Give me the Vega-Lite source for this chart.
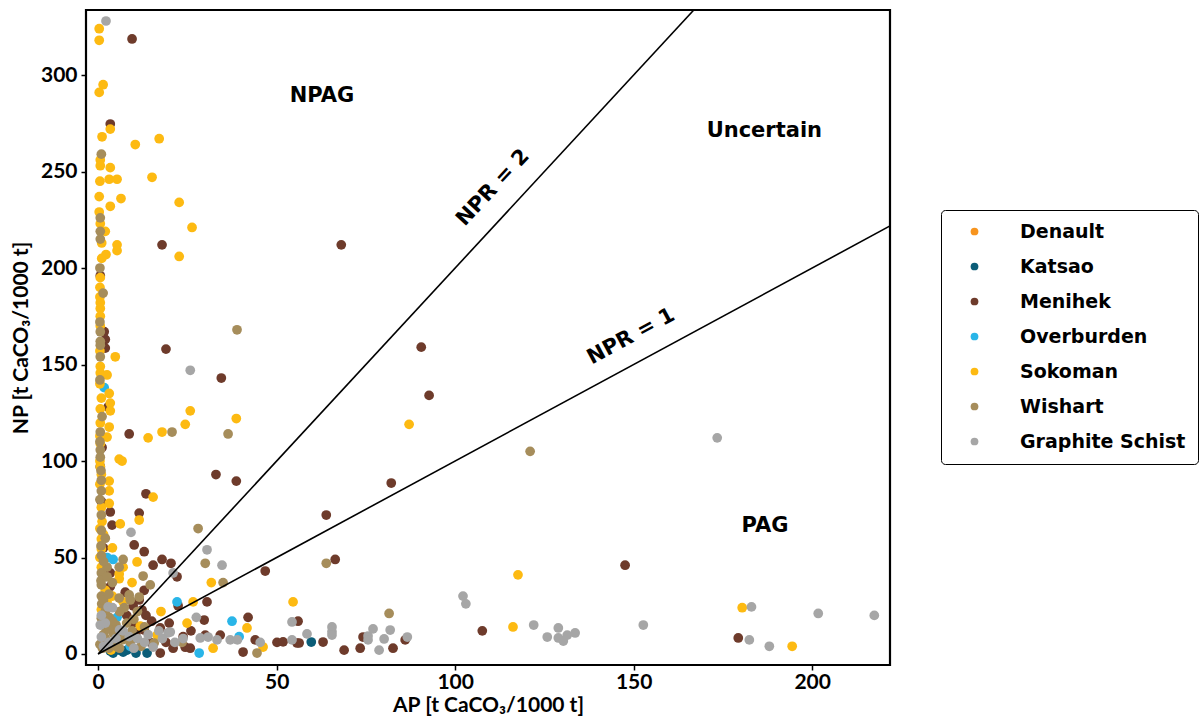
{
  "$schema": "https://vega.github.io/schema/vega-lite/v6.json",
  "width": 804,
  "height": 655,
  "autosize": {"type": "none"},
  "padding": {"left": 86, "top": 10, "right": 313, "bottom": 58},
  "background": "white",
  "config": {
    "view": {"stroke": "black", "strokeWidth": 2.2},
    "font": "Lato",
    "axis": {
      "domain": false, "grid": false, "ticks": true, "tickColor": "black", "tickSize": 5, "tickWidth": 1.5,
      "labelFont": "Lato", "labelFontWeight": "bold", "labelFontSize": 21, "labelColor": "black",
      "titleFont": "Lato", "titleFontWeight": "bold", "titleFontSize": 21, "titleColor": "black"
    },
    "legend": {
      "orient": "none", "legendX": 855, "legendY": 200, "strokeColor": "black", "cornerRadius": 4,
      "padding": 12, "symbolOffset": 12, "labelFont": "DejaVu Sans", "labelFontWeight": "bold", "labelFontSize": 19,
      "labelColor": "black", "symbolSize": 60, "symbolType": "circle", "rowPadding": 15, "labelOffset": 36,
      "labelLimit": 300, "fillColor": "white"
    }
  },
  "datasets": {
    "pts": [
      {"Rock":"Katsao","AP":5.9,"NP":2},{"Rock":"Katsao","AP":8.1,"NP":2},{"Rock":"Katsao","AP":10.6,"NP":0.5},{"Rock":"Katsao","AP":4.2,"NP":0.5},{"Rock":"Katsao","AP":3.4,"NP":1.5},{"Rock":"Katsao","AP":13.7,"NP":0.5},{"Rock":"Katsao","AP":59.7,"NP":6.2},{"Rock":"Katsao","AP":7,"NP":1},
      {"Rock":"Menihek","AP":9.5,"NP":318.7},{"Rock":"Menihek","AP":3.4,"NP":274.6},{"Rock":"Menihek","AP":17.9,"NP":212},{"Rock":"Menihek","AP":68.1,"NP":212},{"Rock":"Menihek","AP":0.6,"NP":196},{"Rock":"Menihek","AP":1.7,"NP":167},{"Rock":"Menihek","AP":2,"NP":163},{"Rock":"Menihek","AP":2,"NP":158.5},{"Rock":"Menihek","AP":19,"NP":158},{"Rock":"Menihek","AP":90.5,"NP":159},{"Rock":"Menihek","AP":34.5,"NP":143},{"Rock":"Menihek","AP":92.7,"NP":134},{"Rock":"Menihek","AP":2.8,"NP":128},{"Rock":"Menihek","AP":8.7,"NP":114},{"Rock":"Menihek","AP":1.1,"NP":107},{"Rock":"Menihek","AP":33,"NP":93},{"Rock":"Menihek","AP":38.7,"NP":89.6},{"Rock":"Menihek","AP":82.1,"NP":88.6},{"Rock":"Menihek","AP":0.6,"NP":97},{"Rock":"Menihek","AP":0.9,"NP":79},{"Rock":"Menihek","AP":13.4,"NP":83},{"Rock":"Menihek","AP":3.4,"NP":73.6},{"Rock":"Menihek","AP":11.5,"NP":73},{"Rock":"Menihek","AP":63.9,"NP":72},{"Rock":"Menihek","AP":3.9,"NP":66.8},{"Rock":"Menihek","AP":10.1,"NP":56.5},{"Rock":"Menihek","AP":12.9,"NP":53},{"Rock":"Menihek","AP":15.4,"NP":46},{"Rock":"Menihek","AP":17.9,"NP":49},{"Rock":"Menihek","AP":20.4,"NP":47},{"Rock":"Menihek","AP":66.4,"NP":49},{"Rock":"Menihek","AP":46.8,"NP":43},{"Rock":"Menihek","AP":147.6,"NP":46},{"Rock":"Menihek","AP":3.4,"NP":42},{"Rock":"Menihek","AP":22.1,"NP":40},{"Rock":"Menihek","AP":3.4,"NP":35},{"Rock":"Menihek","AP":7.6,"NP":32},{"Rock":"Menihek","AP":12.9,"NP":33},{"Rock":"Menihek","AP":9.8,"NP":25},{"Rock":"Menihek","AP":12.3,"NP":22.8},{"Rock":"Menihek","AP":30.5,"NP":27},{"Rock":"Menihek","AP":22.4,"NP":25},{"Rock":"Menihek","AP":13.4,"NP":20},{"Rock":"Menihek","AP":9.8,"NP":16},{"Rock":"Menihek","AP":42,"NP":19},{"Rock":"Menihek","AP":29.7,"NP":17.6},{"Rock":"Menihek","AP":19.9,"NP":16},{"Rock":"Menihek","AP":56,"NP":17},{"Rock":"Menihek","AP":10.6,"NP":11},{"Rock":"Menihek","AP":12.9,"NP":12.4},{"Rock":"Menihek","AP":17.4,"NP":13.5},{"Rock":"Menihek","AP":23.8,"NP":9},{"Rock":"Menihek","AP":19,"NP":6},{"Rock":"Menihek","AP":24.4,"NP":3.5},{"Rock":"Menihek","AP":30,"NP":9.8},{"Rock":"Menihek","AP":34.2,"NP":9.8},{"Rock":"Menihek","AP":25.8,"NP":3},{"Rock":"Menihek","AP":40.6,"NP":1},{"Rock":"Menihek","AP":44,"NP":7.3},{"Rock":"Menihek","AP":50.1,"NP":6},{"Rock":"Menihek","AP":51.8,"NP":6.3},{"Rock":"Menihek","AP":55.7,"NP":5.7},{"Rock":"Menihek","AP":56.3,"NP":5.7},{"Rock":"Menihek","AP":17.4,"NP":0.5},{"Rock":"Menihek","AP":14.6,"NP":6},{"Rock":"Menihek","AP":63,"NP":6.2},{"Rock":"Menihek","AP":68.9,"NP":2},{"Rock":"Menihek","AP":73.4,"NP":3},{"Rock":"Menihek","AP":74.2,"NP":8.8},{"Rock":"Menihek","AP":82.6,"NP":3},{"Rock":"Menihek","AP":86,"NP":7.3},{"Rock":"Menihek","AP":107.6,"NP":12},{"Rock":"Menihek","AP":179.3,"NP":8.3},{"Rock":"Menihek","AP":11.5,"NP":28},{"Rock":"Menihek","AP":1.5,"NP":55},{"Rock":"Menihek","AP":5,"NP":12},{"Rock":"Menihek","AP":8,"NP":20},{"Rock":"Menihek","AP":15,"NP":17},{"Rock":"Menihek","AP":21,"NP":3},{"Rock":"Menihek","AP":26,"NP":12},
      {"Rock":"Overburden","AP":1.7,"NP":138},{"Rock":"Overburden","AP":2.5,"NP":50},{"Rock":"Overburden","AP":4.2,"NP":49},{"Rock":"Overburden","AP":5.3,"NP":19},{"Rock":"Overburden","AP":22.1,"NP":27},{"Rock":"Overburden","AP":37.5,"NP":17},{"Rock":"Overburden","AP":28.3,"NP":0.5},{"Rock":"Overburden","AP":39.5,"NP":9},{"Rock":"Overburden","AP":9,"NP":4},
      {"Rock":"Sokoman","AP":0.3,"NP":324},{"Rock":"Sokoman","AP":0.3,"NP":318},{"Rock":"Sokoman","AP":1.4,"NP":295},{"Rock":"Sokoman","AP":0.3,"NP":291},{"Rock":"Sokoman","AP":3.4,"NP":272},{"Rock":"Sokoman","AP":1.1,"NP":268},{"Rock":"Sokoman","AP":10.4,"NP":264},{"Rock":"Sokoman","AP":17.1,"NP":267},{"Rock":"Sokoman","AP":0.6,"NP":256},{"Rock":"Sokoman","AP":0.6,"NP":253},{"Rock":"Sokoman","AP":3.4,"NP":252},{"Rock":"Sokoman","AP":3.1,"NP":246},{"Rock":"Sokoman","AP":5.3,"NP":246},{"Rock":"Sokoman","AP":15.1,"NP":247},{"Rock":"Sokoman","AP":0.3,"NP":237},{"Rock":"Sokoman","AP":6.4,"NP":236},{"Rock":"Sokoman","AP":22.7,"NP":234},{"Rock":"Sokoman","AP":3.4,"NP":232},{"Rock":"Sokoman","AP":0.3,"NP":229},{"Rock":"Sokoman","AP":0.6,"NP":223},{"Rock":"Sokoman","AP":2,"NP":219},{"Rock":"Sokoman","AP":26.3,"NP":221},{"Rock":"Sokoman","AP":5.3,"NP":212},{"Rock":"Sokoman","AP":5.3,"NP":209},{"Rock":"Sokoman","AP":2.2,"NP":207},{"Rock":"Sokoman","AP":22.7,"NP":206},{"Rock":"Sokoman","AP":0.6,"NP":195},{"Rock":"Sokoman","AP":0.6,"NP":182},{"Rock":"Sokoman","AP":0.6,"NP":179},{"Rock":"Sokoman","AP":0.6,"NP":175},{"Rock":"Sokoman","AP":0.6,"NP":170},{"Rock":"Sokoman","AP":4.8,"NP":154},{"Rock":"Sokoman","AP":0.6,"NP":149},{"Rock":"Sokoman","AP":0.6,"NP":145.6},{"Rock":"Sokoman","AP":2.5,"NP":144.6},{"Rock":"Sokoman","AP":3.1,"NP":135},{"Rock":"Sokoman","AP":0.9,"NP":132.6},{"Rock":"Sokoman","AP":3.4,"NP":130},{"Rock":"Sokoman","AP":3.4,"NP":126},{"Rock":"Sokoman","AP":0.6,"NP":127},{"Rock":"Sokoman","AP":25.8,"NP":126},{"Rock":"Sokoman","AP":24.4,"NP":119},{"Rock":"Sokoman","AP":38.7,"NP":122},{"Rock":"Sokoman","AP":0.6,"NP":119.7},{"Rock":"Sokoman","AP":3.1,"NP":117.6},{"Rock":"Sokoman","AP":2.5,"NP":112.4},{"Rock":"Sokoman","AP":14,"NP":112},{"Rock":"Sokoman","AP":17.9,"NP":115},{"Rock":"Sokoman","AP":0.6,"NP":109},{"Rock":"Sokoman","AP":5.9,"NP":101},{"Rock":"Sokoman","AP":6.7,"NP":100},{"Rock":"Sokoman","AP":0.6,"NP":97},{"Rock":"Sokoman","AP":0.9,"NP":93},{"Rock":"Sokoman","AP":3.1,"NP":89.6},{"Rock":"Sokoman","AP":3.1,"NP":84.5},{"Rock":"Sokoman","AP":0.9,"NP":76},{"Rock":"Sokoman","AP":3.1,"NP":78},{"Rock":"Sokoman","AP":1.1,"NP":68.6},{"Rock":"Sokoman","AP":6.2,"NP":67.4},{"Rock":"Sokoman","AP":11.5,"NP":69.4},{"Rock":"Sokoman","AP":15.4,"NP":81.3},{"Rock":"Sokoman","AP":0.9,"NP":59.6},{"Rock":"Sokoman","AP":0.9,"NP":54.4},{"Rock":"Sokoman","AP":0.9,"NP":45},{"Rock":"Sokoman","AP":5.9,"NP":41.5},{"Rock":"Sokoman","AP":5.9,"NP":39},{"Rock":"Sokoman","AP":9.5,"NP":37},{"Rock":"Sokoman","AP":10.9,"NP":47.7},{"Rock":"Sokoman","AP":31.7,"NP":37},{"Rock":"Sokoman","AP":26.6,"NP":27},{"Rock":"Sokoman","AP":54.6,"NP":27},{"Rock":"Sokoman","AP":17.6,"NP":22},{"Rock":"Sokoman","AP":0.9,"NP":23},{"Rock":"Sokoman","AP":11.8,"NP":14.5},{"Rock":"Sokoman","AP":16.5,"NP":9.8},{"Rock":"Sokoman","AP":24.9,"NP":16},{"Rock":"Sokoman","AP":41.7,"NP":13.5},{"Rock":"Sokoman","AP":32.2,"NP":3},{"Rock":"Sokoman","AP":46.2,"NP":3.6},{"Rock":"Sokoman","AP":3.6,"NP":2},{"Rock":"Sokoman","AP":87.1,"NP":119},{"Rock":"Sokoman","AP":117.6,"NP":41},{"Rock":"Sokoman","AP":116.2,"NP":14},{"Rock":"Sokoman","AP":180.4,"NP":24},{"Rock":"Sokoman","AP":194.4,"NP":4},{"Rock":"Sokoman","AP":7,"NP":45},{"Rock":"Sokoman","AP":4,"NP":55},{"Rock":"Sokoman","AP":1.5,"NP":62},{"Rock":"Sokoman","AP":2,"NP":33},
      {"Rock":"Sokoman","AP":0.5,"NP":100},{"Rock":"Sokoman","AP":0.5,"NP":113},{"Rock":"Sokoman","AP":0.5,"NP":88},{"Rock":"Sokoman","AP":0.5,"NP":65},{"Rock":"Sokoman","AP":0.5,"NP":50},{"Rock":"Sokoman","AP":1.5,"NP":40},{"Rock":"Sokoman","AP":2.5,"NP":27},{"Rock":"Sokoman","AP":0.5,"NP":185},{"Rock":"Sokoman","AP":0.5,"NP":190},{"Rock":"Sokoman","AP":0.5,"NP":140},{"Rock":"Sokoman","AP":0.5,"NP":157},{"Rock":"Sokoman","AP":1,"NP":205},{"Rock":"Sokoman","AP":1,"NP":213},{"Rock":"Sokoman","AP":0.5,"NP":245},{"Rock":"Sokoman","AP":7,"NP":27},{"Rock":"Sokoman","AP":4,"NP":30},
      {"Rock":"Wishart","AP":0.9,"NP":259},{"Rock":"Wishart","AP":0.6,"NP":226},{"Rock":"Wishart","AP":0.6,"NP":219},{"Rock":"Wishart","AP":0.6,"NP":215},{"Rock":"Wishart","AP":1.4,"NP":187},{"Rock":"Wishart","AP":0.6,"NP":167},{"Rock":"Wishart","AP":0.6,"NP":162},{"Rock":"Wishart","AP":0.6,"NP":160},{"Rock":"Wishart","AP":0.6,"NP":154},{"Rock":"Wishart","AP":1.1,"NP":123},{"Rock":"Wishart","AP":38.9,"NP":168},{"Rock":"Wishart","AP":0.6,"NP":115},{"Rock":"Wishart","AP":20.7,"NP":115},{"Rock":"Wishart","AP":36.4,"NP":114},{"Rock":"Wishart","AP":0.6,"NP":105.7},{"Rock":"Wishart","AP":0.6,"NP":102},{"Rock":"Wishart","AP":0.9,"NP":90},{"Rock":"Wishart","AP":0.9,"NP":84.5},{"Rock":"Wishart","AP":0.9,"NP":72},{"Rock":"Wishart","AP":0.9,"NP":64},{"Rock":"Wishart","AP":0.9,"NP":51},{"Rock":"Wishart","AP":7,"NP":49},{"Rock":"Wishart","AP":5.9,"NP":45},{"Rock":"Wishart","AP":0.9,"NP":42},{"Rock":"Wishart","AP":0.9,"NP":35.8},{"Rock":"Wishart","AP":12.6,"NP":40.4},{"Rock":"Wishart","AP":14.6,"NP":35.8},{"Rock":"Wishart","AP":28,"NP":65},{"Rock":"Wishart","AP":30,"NP":47},{"Rock":"Wishart","AP":35,"NP":37},{"Rock":"Wishart","AP":63.9,"NP":47},{"Rock":"Wishart","AP":0.9,"NP":30},{"Rock":"Wishart","AP":5.9,"NP":29},{"Rock":"Wishart","AP":8.7,"NP":30.6},{"Rock":"Wishart","AP":9,"NP":28},{"Rock":"Wishart","AP":11.5,"NP":29.5},{"Rock":"Wishart","AP":7.3,"NP":24},{"Rock":"Wishart","AP":0.9,"NP":18.5},{"Rock":"Wishart","AP":3.1,"NP":19},{"Rock":"Wishart","AP":2.2,"NP":13.5},{"Rock":"Wishart","AP":4.2,"NP":10.9},{"Rock":"Wishart","AP":2.2,"NP":5.7},{"Rock":"Wishart","AP":7,"NP":7.5},{"Rock":"Wishart","AP":15.7,"NP":5.7},{"Rock":"Wishart","AP":23.5,"NP":6},{"Rock":"Wishart","AP":44.5,"NP":0.5},{"Rock":"Wishart","AP":81.5,"NP":21},{"Rock":"Wishart","AP":121,"NP":105},{"Rock":"Wishart","AP":1.5,"NP":10},{"Rock":"Wishart","AP":3,"NP":3},{"Rock":"Wishart","AP":5,"NP":15},{"Rock":"Wishart","AP":1,"NP":26},{"Rock":"Wishart","AP":9.5,"NP":12},{"Rock":"Wishart","AP":12,"NP":4},{"Rock":"Wishart","AP":4,"NP":37},{"Rock":"Wishart","AP":2.5,"NP":45},{"Rock":"Wishart","AP":6,"NP":22},{"Rock":"Wishart","AP":10,"NP":18},{"Rock":"Wishart","AP":1.2,"NP":3},
      {"Rock":"Wishart","AP":0.5,"NP":5},{"Rock":"Wishart","AP":2,"NP":8},{"Rock":"Wishart","AP":3.5,"NP":6},{"Rock":"Wishart","AP":5,"NP":4},{"Rock":"Wishart","AP":6,"NP":10},{"Rock":"Wishart","AP":4,"NP":17},{"Rock":"Wishart","AP":2,"NP":22},{"Rock":"Wishart","AP":1.5,"NP":28},{"Rock":"Wishart","AP":3,"NP":31},{"Rock":"Wishart","AP":0.8,"NP":38},{"Rock":"Wishart","AP":2.5,"NP":40},{"Rock":"Wishart","AP":1.5,"NP":48},{"Rock":"Wishart","AP":0.8,"NP":56},{"Rock":"Wishart","AP":2,"NP":60},{"Rock":"Wishart","AP":0.5,"NP":80},{"Rock":"Wishart","AP":0.8,"NP":95},{"Rock":"Wishart","AP":0.5,"NP":110},{"Rock":"Wishart","AP":0.5,"NP":142},{"Rock":"Wishart","AP":0.5,"NP":172},{"Rock":"Wishart","AP":0.5,"NP":200},{"Rock":"Wishart","AP":8,"NP":16},{"Rock":"Wishart","AP":11,"NP":22},{"Rock":"Wishart","AP":13,"NP":14},{"Rock":"Wishart","AP":3,"NP":13},{"Rock":"Wishart","AP":6,"NP":3},{"Rock":"Wishart","AP":9,"NP":6},
      {"Rock":"Graphite Schist","AP":2.2,"NP":328},{"Rock":"Graphite Schist","AP":25.8,"NP":147},{"Rock":"Graphite Schist","AP":9.2,"NP":63},{"Rock":"Graphite Schist","AP":30.5,"NP":54},{"Rock":"Graphite Schist","AP":34.7,"NP":46},{"Rock":"Graphite Schist","AP":21,"NP":42},{"Rock":"Graphite Schist","AP":2.8,"NP":24.4},{"Rock":"Graphite Schist","AP":0.6,"NP":15},{"Rock":"Graphite Schist","AP":0.9,"NP":20},{"Rock":"Graphite Schist","AP":0.9,"NP":8.8},{"Rock":"Graphite Schist","AP":1.5,"NP":4},{"Rock":"Graphite Schist","AP":8.7,"NP":9},{"Rock":"Graphite Schist","AP":11,"NP":8},{"Rock":"Graphite Schist","AP":15.4,"NP":3.6},{"Rock":"Graphite Schist","AP":19.6,"NP":11},{"Rock":"Graphite Schist","AP":20.2,"NP":11.4},{"Rock":"Graphite Schist","AP":21.5,"NP":6},{"Rock":"Graphite Schist","AP":23.8,"NP":8},{"Rock":"Graphite Schist","AP":13,"NP":6},{"Rock":"Graphite Schist","AP":27.5,"NP":19},{"Rock":"Graphite Schist","AP":28.6,"NP":8.3},{"Rock":"Graphite Schist","AP":30.8,"NP":8.8},{"Rock":"Graphite Schist","AP":33.3,"NP":7.3},{"Rock":"Graphite Schist","AP":37,"NP":7.3},{"Rock":"Graphite Schist","AP":39,"NP":7.3},{"Rock":"Graphite Schist","AP":45.4,"NP":6},{"Rock":"Graphite Schist","AP":54.3,"NP":16.6},{"Rock":"Graphite Schist","AP":54.3,"NP":7.3},{"Rock":"Graphite Schist","AP":58.5,"NP":10.4},{"Rock":"Graphite Schist","AP":65.5,"NP":14},{"Rock":"Graphite Schist","AP":65.5,"NP":11.5},{"Rock":"Graphite Schist","AP":65.5,"NP":9.8},{"Rock":"Graphite Schist","AP":75.6,"NP":9.3},{"Rock":"Graphite Schist","AP":75.6,"NP":7.3},{"Rock":"Graphite Schist","AP":77,"NP":13},{"Rock":"Graphite Schist","AP":78.7,"NP":2},{"Rock":"Graphite Schist","AP":80.1,"NP":7.8},{"Rock":"Graphite Schist","AP":81.8,"NP":12.4},{"Rock":"Graphite Schist","AP":86.6,"NP":8.8},{"Rock":"Graphite Schist","AP":102.2,"NP":30},{"Rock":"Graphite Schist","AP":103,"NP":26},{"Rock":"Graphite Schist","AP":122,"NP":15},{"Rock":"Graphite Schist","AP":125.8,"NP":8.8},{"Rock":"Graphite Schist","AP":128.9,"NP":13.5},{"Rock":"Graphite Schist","AP":128.9,"NP":8.3},{"Rock":"Graphite Schist","AP":130.3,"NP":6.7},{"Rock":"Graphite Schist","AP":131.4,"NP":9.8},{"Rock":"Graphite Schist","AP":133.6,"NP":10.9},{"Rock":"Graphite Schist","AP":152.7,"NP":15},{"Rock":"Graphite Schist","AP":173.4,"NP":112},{"Rock":"Graphite Schist","AP":183,"NP":24.4},{"Rock":"Graphite Schist","AP":182.4,"NP":7.3},{"Rock":"Graphite Schist","AP":188,"NP":4},{"Rock":"Graphite Schist","AP":201.7,"NP":21},{"Rock":"Graphite Schist","AP":217.4,"NP":20},{"Rock":"Graphite Schist","AP":7,"NP":12},{"Rock":"Graphite Schist","AP":17,"NP":12},
      {"Rock":"Graphite Schist","AP":3,"NP":6},{"Rock":"Graphite Schist","AP":5,"NP":8},{"Rock":"Graphite Schist","AP":2,"NP":16},{"Rock":"Graphite Schist","AP":6,"NP":12.5},{"Rock":"Graphite Schist","AP":10,"NP":3},{"Rock":"Graphite Schist","AP":14,"NP":10},{"Rock":"Graphite Schist","AP":4,"NP":24},{"Rock":"Graphite Schist","AP":18,"NP":8}
    ],
    "lines": [
      {"name": "NPR = 2", "AP": 0, "NP": 0, "AP2": 166.85, "NP2": 333.7},
      {"name": "NPR = 1", "AP": 0, "NP": 0, "AP2": 221.8, "NP2": 221.8}
    ],
    "labels": [
      {"text": "NPAG", "AP": 62.7, "NP": 289, "angle": 0},
      {"text": "Uncertain", "AP": 186.6, "NP": 271, "angle": 0},
      {"text": "PAG", "AP": 186.8, "NP": 66.3, "angle": 0},
      {"text": "NPR = 2", "AP": 110.6, "NP": 241.5, "angle": 313},
      {"text": "NPR = 1", "AP": 149.3, "NP": 164.5, "angle": 331.6}
    ]
  },
  "layer": [
    {
      "data": {"name": "pts"},
      "mark": {"type": "circle", "size": 95, "opacity": 1},
      "encoding": {
        "x": {"field": "AP", "type": "quantitative", "scale": {"domain": [-3.4, 221.8], "nice": false, "zero": false},
              "axis": {"values": [0, 50, 100, 150, 200], "title": "AP [t CaCO₃/1000 t]", "labelPadding": 1, "titlePadding": 2}},
        "y": {"field": "NP", "type": "quantitative", "scale": {"domain": [-5.7, 333.7], "nice": false, "zero": false},
              "axis": {"values": [0, 50, 100, 150, 200, 250, 300], "title": "NP [t CaCO₃/1000 t]", "labelPadding": 4, "titlePadding": 9}},
        "color": {"field": "Rock", "type": "nominal",
                  "scale": {"domain": ["Denault", "Katsao", "Menihek", "Overburden", "Sokoman", "Wishart", "Graphite Schist"],
                            "range": ["#F7941E", "#0B5D78", "#6E3B2B", "#29B5E8", "#FDBA12", "#A68D5B", "#A6A6A6"]},
                  "legend": {"title": null}}
      }
    },
    {
      "data": {"name": "lines"},
      "mark": {"type": "rule", "color": "black", "strokeWidth": 1.6, "clip": true},
      "encoding": {
        "x": {"field": "AP", "type": "quantitative"},
        "y": {"field": "NP", "type": "quantitative"},
        "x2": {"field": "AP2"},
        "y2": {"field": "NP2"}
      }
    },
    {
      "data": {"name": "labels"},
      "mark": {"type": "text", "font": "DejaVu Sans", "fontWeight": "bold", "fontSize": 21, "color": "black", "align": "center", "baseline": "middle"},
      "encoding": {
        "x": {"field": "AP", "type": "quantitative"},
        "y": {"field": "NP", "type": "quantitative"},
        "text": {"field": "text"},
        "angle": {"field": "angle", "type": "quantitative", "scale": null}
      }
    }
  ]
}
